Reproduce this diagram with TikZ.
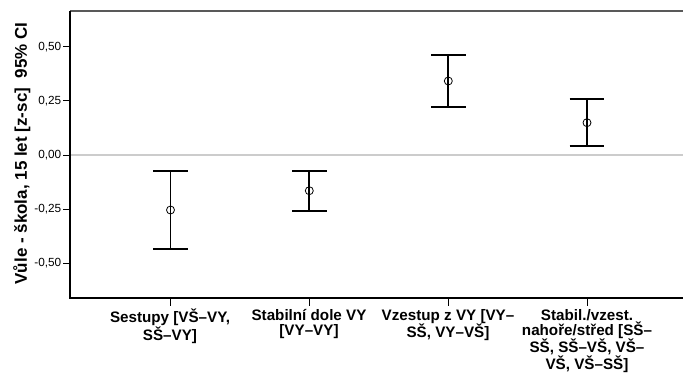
\documentclass[tikz,border=0pt]{standalone}
\usepackage{fontspec}
\setmainfont{Liberation Sans}
\begin{document}
\begin{tikzpicture}[x=1pt,y=1pt,
	bar/.style={line width=1.7pt},
	mean/.style={circle, draw, line width=0.8pt, inner sep=0pt, minimum size=8pt},
	cat/.style={align=center, inner sep=0pt, anchor=north, font=\fontsize{15.2}{15}\selectfont\bfseries},
	tick/.style={anchor=east, inner sep=0pt, font=\fontsize{11.8}{13}\selectfont}]

	\useasboundingbox (0,0) rectangle (683,373);

	% frame
	\coordinate	(tl)	at	(70,362);
	\coordinate	(bl)	at	(70,75);
	\coordinate	(tr)	at	(683,362);
	\coordinate	(br)	at	(683,75);
	\coordinate	(zl)	at	(70,218);
	\coordinate	(zr)	at	(683,218);

	\draw[gray!40, line width=1.2pt]	(zl)	--	(zr);
	\draw[black!65, line width=1.5pt]	(tl)	--	(tr);
	\draw[line width=1.2pt]	(tl)	--	(bl)	--	(br);

	% y axis
	\node 	(y50)	at	(61.5,326) 	[tick]{0,50};
	\node 	(y25)	at	(61.5,272) 	[tick]{0,25};
	\node 	(y00)	at	(61.5,218) 	[tick]{0,00};
	\node 	(ym25)	at	(61.5,164) 	[tick]{-0,25};
	\node 	(ym50)	at	(61.5,110) 	[tick]{-0,50};

	\draw[line width=1pt]	([xshift=1.5pt]y50.east)	--	(y50 -| bl);
	\draw[line width=1pt]	([xshift=1.5pt]y25.east)	--	(y25 -| bl);
	\draw[line width=1pt]	([xshift=1.5pt]y00.east)	--	(y00 -| bl);
	\draw[line width=1pt]	([xshift=1.5pt]ym25.east)	--	(ym25 -| bl);
	\draw[line width=1pt]	([xshift=1.5pt]ym50.east)	--	(ym50 -| bl);

	\node 	(ylab)	at	(27,219.5) 	[rotate=90, anchor=base, inner sep=0pt, font=\fontsize{17}{20}\selectfont\bfseries]{Vůle - škola, 15 let [z-sc]\ \ 95\% CI};

	% x axis
	\node 	(c1)	at	(170,64) 	[cat]{Sestupy [VŠ–VY,\\SŠ–VY]};
	\node 	(c2)	at	(309,64) 	[cat]{Stabilní dole VY\\[0pt][VY–VY]};
	\node 	(c3)	at	(448,64) 	[cat]{Vzestup z VY [VY–\\SŠ, VY–VŠ]};
	\node 	(c4)	at	(587,64) 	[cat]{Stabil./vzest.\\nahoře/střed [SŠ–\\SŠ, SŠ–VŠ, VŠ–\\VŠ, VŠ–SŠ]};

	\draw[line width=1pt]	(c1 |- br)	--	++(0,-8);
	\draw[line width=1pt]	(c2 |- br)	--	++(0,-8);
	\draw[line width=1pt]	(c3 |- br)	--	++(0,-8);
	\draw[line width=1pt]	(c4 |- br)	--	++(0,-8);

	% error bars
	\coordinate	(t1)	at	(170.5,202.3);
	\coordinate	(b1)	at	(170.5,123.7);
	\node 	(m1)	at	(170.5,163) 	[mean]{};
	\draw[bar]	(t1)	--	(b1);
	\draw[bar]	([xshift=-17.3pt]t1)	--	([xshift=17.3pt]t1);
	\draw[bar]	([xshift=-17.3pt]b1)	--	([xshift=17.3pt]b1);

	\coordinate	(t2)	at	(309.3,202.3);
	\coordinate	(b2)	at	(309.3,162.3);
	\node 	(m2)	at	(309.3,182.3) 	[mean]{};
	\draw[bar]	(t2)	--	(b2);
	\draw[bar]	([xshift=-17.3pt]t2)	--	([xshift=17.3pt]t2);
	\draw[bar]	([xshift=-17.3pt]b2)	--	([xshift=17.3pt]b2);

	\coordinate	(t3)	at	(448.3,318);
	\coordinate	(b3)	at	(448.3,266.3);
	\node 	(m3)	at	(448.3,292) 	[mean]{};
	\draw[bar]	(t3)	--	(b3);
	\draw[bar]	([xshift=-17.3pt]t3)	--	([xshift=17.3pt]t3);
	\draw[bar]	([xshift=-17.3pt]b3)	--	([xshift=17.3pt]b3);

	\coordinate	(t4)	at	(587,273.7);
	\coordinate	(b4)	at	(587,227);
	\node 	(m4)	at	(587,250.3) 	[mean]{};
	\draw[bar]	(t4)	--	(b4);
	\draw[bar]	([xshift=-17.3pt]t4)	--	([xshift=17.3pt]t4);
	\draw[bar]	([xshift=-17.3pt]b4)	--	([xshift=17.3pt]b4);

\end{tikzpicture}
\end{document}
